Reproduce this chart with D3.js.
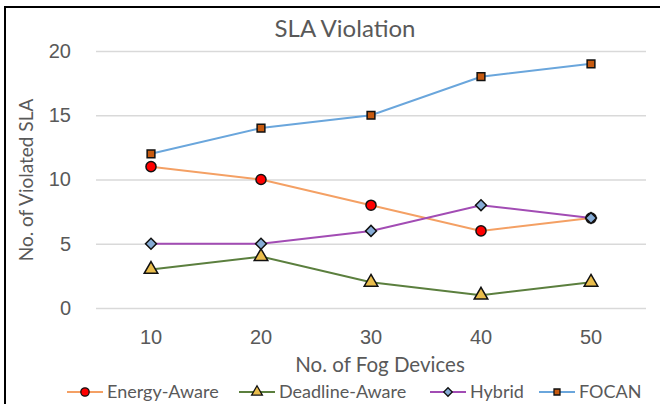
<!DOCTYPE html>
<html>
<head>
<meta charset="utf-8">
<script src="https://cdn.jsdelivr.net/npm/d3@7"></script>
<style>
  body { margin: 0; background: #fff; }
  svg { display: block; font-family: Lato, "Open Sans", sans-serif; }
</style>
</head>
<body>
<div id="chart"></div>
<script>
// data
var devices = ["10", "20", "30", "40", "50"];
var energyAware = [11, 10, 8, 6, 7];
var deadlineAware = [3, 4, 2, 1, 2];
var hybrid = [5, 5, 6, 8, 7];
var focan = [12, 14, 15, 18, 19];
var yTicks = [0, 5, 10, 15, 20];

var series = [
  {name: "Energy-Aware", values: energyAware, line: "#f4a064", fill: "#ff0000", shape: "circle"},
  {name: "Deadline-Aware", values: deadlineAware, line: "#5b7f3e", fill: "#e9bd4c", shape: "triangle"},
  {name: "Hybrid", values: hybrid, line: "#a24cb4", fill: "#86acd6", shape: "diamond"},
  {name: "FOCAN", values: focan, line: "#6aa6dc", fill: "#c65a10", shape: "square"}
];

var W = 660, H = 404;
var margin = {top: 51, right: 14, bottom: 96, left: 96};
var width = W - margin.left - margin.right,
    height = H - margin.top - margin.bottom;

var svg = d3.select("#chart").append("svg")
    .attr("width", W)
    .attr("height", H);

// outer frame (right and bottom edges are cut off)
svg.append("rect")
    .attr("x", 5).attr("y", 7)
    .attr("width", 700).attr("height", 450)
    .attr("fill", "none")
    .attr("stroke", "#000")
    .attr("stroke-width", 2);

var g = svg.append("g")
    .attr("transform", "translate(" + margin.left + "," + margin.top + ")");

var x = d3.scaleBand().domain(devices).range([0, width]);
var y = d3.scaleLinear().domain([0, 20]).range([height, 0]);
var cx = function(i) { return x(devices[i]) + x.bandwidth() / 2; };

// gridlines + y labels
var yAxis = g.append("g")
    .call(d3.axisLeft(y).tickValues(yTicks).tickSize(-width).tickPadding(25));
yAxis.select(".domain").remove();
yAxis.selectAll(".tick line").attr("stroke", "#d9d9d9").attr("stroke-width", 1.5);
yAxis.selectAll(".tick text").attr("fill", "#595959").style("font-size", "20px");

// x labels
var xAxis = g.append("g")
    .attr("transform", "translate(0," + height + ")")
    .call(d3.axisBottom(x).tickSize(0).tickPadding(22));
xAxis.select(".domain").remove();
xAxis.selectAll(".tick text").attr("fill", "#595959").style("font-size", "20px");

var symbolFor = function(shape) {
  if (shape === "circle") return d3.symbol(d3.symbolCircle, 80);
  if (shape === "triangle") return d3.symbol(d3.symbolTriangle, 80);
  if (shape === "diamond") return d3.symbol(d3.symbolSquare, 60);
  return d3.symbol(d3.symbolSquare, 60);
};

var line = d3.line()
    .x(function(d, i) { return cx(i); })
    .y(function(d) { return y(d); });

series.forEach(function(s) {
  g.append("path")
      .datum(s.values)
      .attr("fill", "none")
      .attr("stroke", s.line)
      .attr("stroke-width", 2)
      .attr("d", line);
});

series.forEach(function(s) {
  g.selectAll(".m-" + s.shape)
      .data(s.values)
      .enter().append("path")
      .attr("class", "m-" + s.shape)
      .attr("d", symbolFor(s.shape)())
      .attr("transform", function(d, i) {
        return "translate(" + cx(i) + "," + y(d) + ")" + (s.shape === "diamond" ? " rotate(45)" : "");
      })
      .attr("fill", s.fill)
      .attr("stroke", "#111")
      .attr("stroke-width", 1.5);
});

// title
svg.append("text")
    .attr("x", 345).attr("y", 37)
    .attr("text-anchor", "middle")
    .attr("fill", "#595959")
    .style("font-size", "24px")
    .text("SLA Violation");

// axis titles
svg.append("text")
    .attr("x", 380).attr("y", 372)
    .attr("text-anchor", "middle")
    .attr("fill", "#595959")
    .style("font-size", "20.5px")
    .text("No. of Fog Devices");

svg.append("text")
    .attr("transform", "translate(33,180) rotate(-90)")
    .attr("text-anchor", "middle")
    .attr("fill", "#595959")
    .style("font-size", "19px")
    .text("No. of Violated SLA");

// legend
var legendX = [67, 239, 430, 539];
var legend = svg.selectAll(".legend")
    .data(series)
    .enter().append("g")
    .attr("class", "legend")
    .attr("transform", function(d, i) { return "translate(" + legendX[i] + ",392)"; });

legend.append("line")
    .attr("x1", 0).attr("x2", 36)
    .attr("stroke", function(d) { return d.line; })
    .attr("stroke-width", 2);

legend.append("path")
    .attr("d", function(d) {
      var sym = symbolFor(d.shape);
      return sym.size(d.shape === "circle" ? 55 : d.shape === "triangle" ? 50 : 36)();
    })
    .attr("transform", function(d) { return "translate(18,0)" + (d.shape === "diamond" ? " rotate(45)" : ""); })
    .attr("fill", function(d) { return d.fill; })
    .attr("stroke", "#111")
    .attr("stroke-width", 1.3);

legend.append("text")
    .attr("x", 40).attr("y", 6)
    .attr("fill", "#595959")
    .style("font-size", "18px")
    .text(function(d) { return d.name; });
</script>
</body>
</html>
